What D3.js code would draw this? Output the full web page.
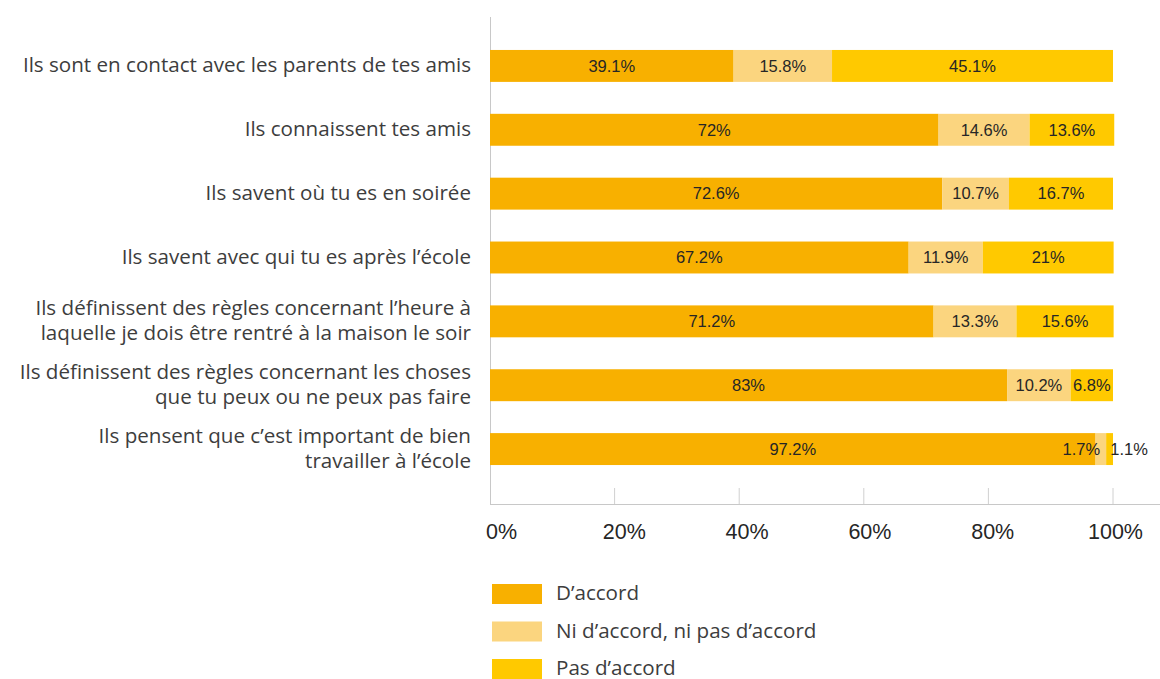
<!DOCTYPE html>
<html><head><meta charset="utf-8">
<script src="https://cdn.jsdelivr.net/npm/d3@7"></script>
<style>body{margin:0;background:#fff}</style>
</head><body>
<svg id="c" width="1160" height="679"></svg>
<script>
const categories = [
  ["Ils sont en contact avec les parents de tes amis"],
  ["Ils connaissent tes amis"],
  ["Ils savent où tu es en soirée"],
  ["Ils savent avec qui tu es après l’école"],
  ["Ils définissent des règles concernant l’heure à ", "laquelle je dois être rentré à la maison le soir"],
  ["Ils définissent des règles concernant les choses ", "que tu peux ou ne peux pas faire"],
  ["Ils pensent que c’est important de bien ", "travailler à l’école"]
];
const seriesNames = ["D’accord", "Ni d’accord, ni pas d’accord", "Pas d’accord"];
const dAccord = [39.1, 72, 72.6, 67.2, 71.2, 83, 97.2];
const niNi = [15.8, 14.6, 10.7, 11.9, 13.3, 10.2, 1.7];
const pasDAccord = [45.1, 13.6, 16.7, 21, 15.6, 6.8, 1.1];
const tickValues = [0, 20, 40, 60, 80, 100];
const colors = ["#F8B000", "#FBD57F", "#FFC900"];

const svg = d3.select("#c");
const txt = "#3d3d3d";
const catFont = "'Open Sans', sans-serif";
const numFont = "'Liberation Sans', Arial, sans-serif";
const x = d3.scaleLinear().domain([0, 100]).range([490, 1113]);
const xLab = d3.scaleLinear().domain([0, 100]).range([501, 1115]);
const y = d3.scaleBand().domain(d3.range(categories.length)).range([34, 481]).paddingInner(0.5).paddingOuter(0.25);

const rows = categories.map((c, i) => ({i, a: dAccord[i], b: niNi[i], c: pasDAccord[i]}));
const stack = d3.stack().keys(["a", "b", "c"])(rows);

// tick marks (upward stubs)
svg.append("g").selectAll("line").data(tickValues.slice(1)).join("line")
  .attr("x1", d => x(d)).attr("x2", d => x(d)).attr("y1", 488).attr("y2", 504)
  .attr("stroke", "#d0d0d0").attr("stroke-width", 1);
// axis lines
svg.append("line").attr("x1", 490.5).attr("x2", 490.5).attr("y1", 17).attr("y2", 504).attr("stroke", "#c8c8c8");
svg.append("line").attr("x1", 490).attr("x2", 1160).attr("y1", 504.5).attr("y2", 504.5).attr("stroke", "#c8c8c8");

// bars
stack.forEach((s, k) => {
  svg.append("g").attr("fill", colors[k]).selectAll("rect").data(s).join("rect")
    .attr("x", d => x(d[0])).attr("width", d => x(d[1]) - x(d[0]))
    .attr("y", d => y(d.data.i)).attr("height", y.bandwidth());
});

// data labels with simple collision avoidance
const labG = svg.append("g").attr("font-family", numFont).attr("font-size", 16.5).attr("fill", "#262626").attr("text-anchor", "middle");
rows.forEach((r, i) => {
  const segs = stack.map(s => s[i]);
  const items = segs.map(d => {
    const val = d[1] - d[0];
    const t = labG.append("text").attr("y", y(i) + y.bandwidth() / 2).attr("dy", "0.35em").text(d3.format("~r")(+val.toFixed(1)) + "%");
    const w = t.node().getComputedTextLength();
    return {t, cx: (x(d[0]) + x(d[1])) / 2, w};
  });
  for (let k = 1; k < items.length; k++) {
    const p = items[k - 1], q = items[k];
    const need = (p.w + q.w) / 2 + 10;
    if (q.cx - p.cx < need) {
      const mid = (p.cx + q.cx) / 2;
      p.cx = mid - need / 2; q.cx = mid + need / 2;
    }
  }
  items.forEach(it => it.t.attr("x", it.cx));
});

// category labels
const catG = svg.append("g").attr("font-family", catFont).attr("font-size", 20.6).attr("fill", txt).attr("text-anchor", "end").style("white-space", "pre");
categories.forEach((lines, i) => {
  const cy = y(i) + y.bandwidth() / 2;
  const lh = 24.5;
  lines.forEach((ln, j) => {
    catG.append("text").attr("x", 471).attr("y", cy - 1 + (j - (lines.length - 1) / 2) * lh).attr("dy", "0.35em").text(ln);
  });
});

// x axis labels
const ax = svg.append("g").attr("transform", "translate(0,531)")
  .call(d3.axisBottom(xLab).tickValues(tickValues).tickSize(0).tickFormat(d => d + "%"));
ax.select(".domain").remove();
ax.selectAll("text").attr("font-family", numFont).attr("font-size", 21.5).attr("fill", "#262626").attr("dy", "0.35em").attr("y", 0);

// legend
const lg = svg.append("g").attr("font-family", catFont).attr("font-size", 20.6).attr("fill", txt);
seriesNames.forEach((n, k) => {
  const yy = 584 + k * 37.5;
  lg.append("rect").attr("x", 492).attr("y", yy).attr("width", 50).attr("height", 20).attr("fill", colors[k]);
  lg.append("text").attr("x", 556).attr("y", yy + 9).attr("dy", "0.35em").text(n);
});
</script>
</body></html>
